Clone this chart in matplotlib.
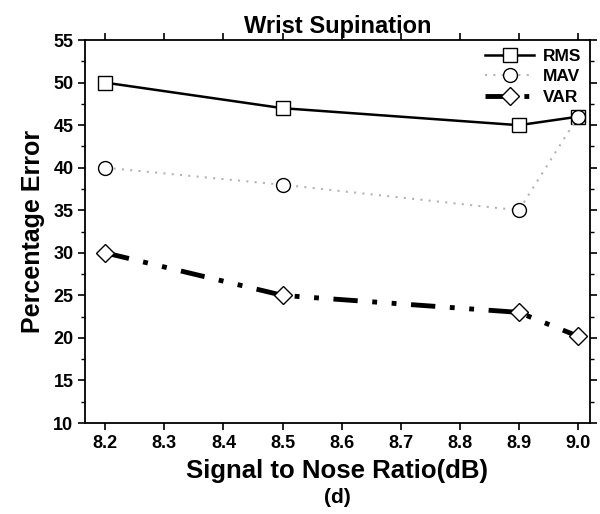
import numpy as np
import matplotlib.pyplot as plt
from matplotlib.ticker import MultipleLocator

plt.rcParams['font.family'] = ['Liberation Sans', 'DejaVu Sans']
plt.rcParams['font.weight'] = 'bold'

snr = [8.2, 8.5, 8.9, 9.0]
rms = [50, 47, 45, 46]
mav = [40, 38, 35, 46]
var = [30, 25, 23, 20.2]

fig = plt.figure(figsize=(6, 5.14), dpi=100)
ax = fig.add_axes([0.142, 0.177, 0.841, 0.745])

ax.plot(snr, rms, color='black', lw=1.8, marker='s', ms=10, mfc='white', mec='black', mew=1.0, label='RMS')
ax.plot(snr, mav, color='#b4b4b4', lw=1.5, ls=(0, (1, 3)), marker='o', ms=10, mfc='white', mec='black', mew=1.0, label='MAV')
ax.plot(snr, var, color='black', lw=3.5, ls=(0, (5, 3, 1, 3, 1, 3)), marker='D', ms=9, mfc='white', mec='black', mew=1.0, label='VAR')

ax.set_xlim(8.166, 9.02)
ax.set_ylim(10, 55)
ax.xaxis.set_major_locator(MultipleLocator(0.1))
ax.yaxis.set_major_locator(MultipleLocator(5))
ax.yaxis.set_minor_locator(MultipleLocator(2.5))
ax.tick_params(axis='both', which='major', direction='out', length=5, width=1.2, labelsize=13)
ax.tick_params(axis='y', which='minor', direction='out', length=3, width=1)
ax.tick_params(top=True, right=True, which='both')
for s in ax.spines.values():
    s.set_linewidth(1.3)

ax.set_title('Wrist Supination', fontsize=17, fontweight='bold', pad=5)
ax.set_ylabel('Percentage Error', fontsize=18, fontweight='bold', labelpad=6)
ax.set_xlabel('Signal to Nose Ratio(dB)', fontsize=18.5, fontweight='bold', labelpad=5)
fig.text(0.5 * (0.142 + 0.983), 0.013, '(d)', ha='center', va='bottom', fontsize=15, fontweight='bold')

leg = ax.legend(loc='upper right', frameon=False, fontsize=12.5, handlelength=2.8,
                borderaxespad=0.1, labelspacing=0.3, handletextpad=0.5)

fig.savefig('out.png', dpi=100)
